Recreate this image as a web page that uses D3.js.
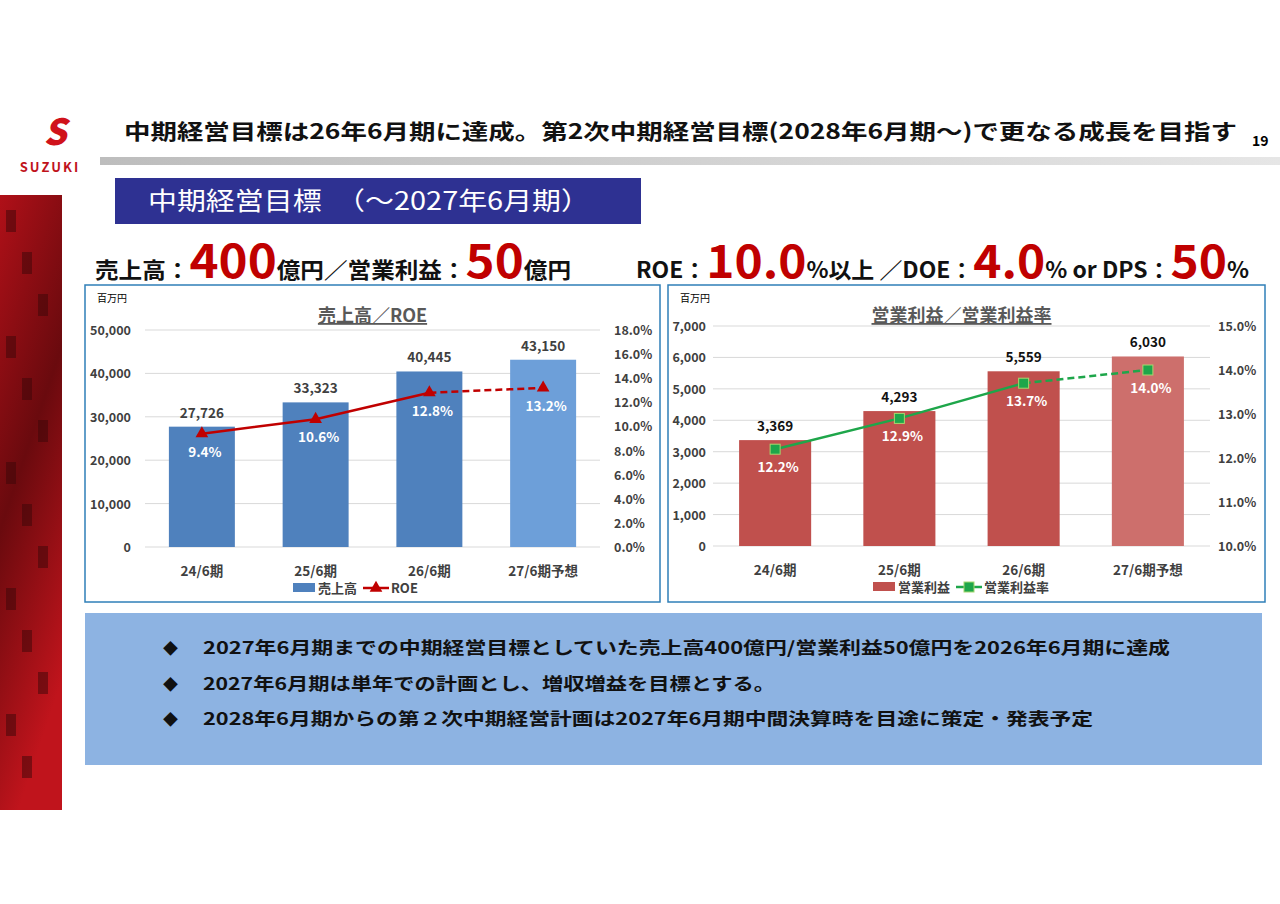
<!DOCTYPE html>
<html><head><meta charset="utf-8">
<script src="https://cdn.jsdelivr.net/npm/d3@7"></script>
<style>
body{margin:0;background:#fff;font-family:"Noto Sans CJK JP","Noto Sans",sans-serif;}
svg text{font-family:"Noto Sans CJK JP","Noto Sans",sans-serif;}
</style></head>
<body><svg width="1280" height="904"></svg>
<script>
const periods = ["24/6期", "25/6期", "26/6期", "27/6期予想"];
const sales = [27726, 33323, 40445, 43150];
const roe = [9.4, 10.6, 12.8, 13.2];
const opProfit = [3369, 4293, 5559, 6030];
const opMargin = [12.2, 12.9, 13.7, 14.0];
const salesTicks = [0, 10000, 20000, 30000, 40000, 50000];
const roeTicks = [0, 2, 4, 6, 8, 10, 12, 14, 16, 18];
const opTicks = [0, 1000, 2000, 3000, 4000, 5000, 6000, 7000];
const marginTicks = [10, 11, 12, 13, 14, 15];
const bullets = [
	"2027年6月期までの中期経営目標としていた売上高400億円/営業利益50億円を2026年6月期に達成",
	"2027年6月期は単年での計画とし、増収増益を目標とする。",
	"2028年6月期からの第２次中期経営計画は2027年6月期中間決算時を目途に策定・発表予定"
];
const bulletWidths = [967, 572, 890];

const svg = d3.select("svg");
const defs = svg.append("defs");
const g1 = defs.append("linearGradient").attr("id", "rule");
g1.append("stop").attr("offset", "0").attr("stop-color", "#bdbdbd");
g1.append("stop").attr("offset", "1").attr("stop-color", "#e6e6e6");
const g2 = defs.append("linearGradient").attr("id", "stripe").attr("x1", 0).attr("y1", 0).attr("x2", 0.3).attr("y2", 1);
g2.append("stop").attr("offset", "0").attr("stop-color", "#b01018");
g2.append("stop").attr("offset", "0.5").attr("stop-color", "#6a0a0e");
g2.append("stop").attr("offset", "1").attr("stop-color", "#c0141c");

// left decorative stripe
svg.append("rect").attr("x", 0).attr("y", 195).attr("width", 62).attr("height", 615).attr("fill", "url(#stripe)");
for (let i = 0; i < 14; i++) {
	svg.append("rect").attr("x", 6 + (i % 3) * 16).attr("y", 210 + i * 42).attr("width", 10).attr("height", 22)
		.attr("fill", "#3a0507").attr("opacity", 0.5);
}

// logo
svg.append("text").attr("x", 55).attr("y", 145).attr("text-anchor", "middle").attr("font-size", 36)
	.attr("font-weight", 900).attr("fill", "#d0121b").attr("font-style", "italic").text("S");
svg.append("text").attr("x", 50).attr("y", 172).attr("text-anchor", "middle").attr("font-size", 13)
	.attr("font-weight", 700).attr("fill", "#c0121b").attr("letter-spacing", 2).text("SUZUKI");

svg.append("text").attr("x", 124).attr("y", 139).attr("font-size", 21).attr("font-weight", 700).attr("fill", "#111")
	.attr("textLength", 1113).attr("lengthAdjust", "spacingAndGlyphs")
	.text("中期経営目標は26年6月期に達成。第2次中期経営目標(2028年6月期～)で更なる成長を目指す");
svg.append("text").attr("x", 1252).attr("y", 146).attr("font-size", 14).attr("font-weight", 700).text("19");
svg.append("rect").attr("x", 100).attr("y", 157).attr("width", 1180).attr("height", 8).attr("fill", "url(#rule)");

svg.append("rect").attr("x", 115).attr("y", 178).attr("width", 526).attr("height", 46).attr("fill", "#2e3192");
svg.append("text").attr("x", 148).attr("y", 210).attr("font-size", 25).attr("fill", "#fff")
	.attr("textLength", 442).attr("lengthAdjust", "spacingAndGlyphs").text("中期経営目標　（～2027年6月期）");

function headline(x, len, parts) {
	const t = svg.append("text").attr("x", x).attr("y", 278).attr("font-weight", 700)
		.attr("textLength", len).attr("lengthAdjust", "spacingAndGlyphs");
	parts.forEach(([s, big]) => {
		t.append("tspan").attr("font-size", big ? 46 : 22).attr("fill", big ? "#c00000" : "#111").text(s);
	});
}
headline(95, 476, [["売上高：", 0], ["400", 1], ["億円／営業利益：", 0], ["50", 1], ["億円", 0]]);
headline(636, 613, [["ROE：", 0], ["10.0", 1], ["%以上 ／DOE：", 0], ["4.0", 1], ["% or DPS：", 0], ["50", 1], ["%", 0]]);

function chart(o) {
	const g = svg.append("g");
	g.append("rect").attr("x", o.box[0]).attr("y", 285).attr("width", o.box[1] - o.box[0]).attr("height", 317)
		.attr("fill", "#fff").attr("stroke", "#2f7fb8").attr("stroke-width", 1.5);
	const x = d3.scaleBand().domain(periods).range(o.xr).paddingInner(0.42).paddingOuter(0.21);
	const y = d3.scaleLinear().domain(o.yd).range([o.y0, o.y1]);
	const y2 = d3.scaleLinear().domain(o.y2d).range([o.y0, o.y1]);
	g.selectAll("line.grid").data(o.yt).enter().append("line").attr("x1", o.xr[0]).attr("x2", o.xr[1])
		.attr("y1", d => y(d)).attr("y2", d => y(d)).attr("stroke", "#d9d9d9");
	g.selectAll("text.yl").data(o.yt).enter().append("text").attr("x", o.yLabX).attr("y", d => y(d) + 5)
		.attr("text-anchor", "end").attr("font-size", 12.5).attr("font-weight", 700).attr("fill", "#404040")
		.text(d => d3.format(",")(d));
	g.selectAll("text.y2").data(o.y2t).enter().append("text").attr("x", o.y2LabX).attr("y", d => y2(d) + 5)
		.attr("font-size", 12.5).attr("font-weight", 700).attr("fill", "#404040").text(d => d.toFixed(1) + "%");
	g.append("text").attr("x", o.box[0] + 12).attr("y", 302).attr("font-size", 10).text("百万円");
	g.append("text").attr("x", (o.xr[0] + o.xr[1]) / 2).attr("y", 322).attr("text-anchor", "middle").attr("font-size", 18)
		.attr("font-weight", 700).attr("fill", "#595959").attr("text-decoration", "underline").text(o.title);
	g.selectAll("rect.bar").data(o.bars).enter().append("rect")
		.attr("x", (d, i) => x(periods[i])).attr("width", x.bandwidth())
		.attr("y", d => y(d)).attr("height", d => o.y0 - y(d)).attr("fill", (d, i) => i === 3 ? o.c2 : o.c1);
	g.selectAll("text.bv").data(o.bars).enter().append("text")
		.attr("x", (d, i) => x(periods[i]) + x.bandwidth() / 2).attr("y", d => y(d) - 9)
		.attr("text-anchor", "middle").attr("font-size", 13.5).attr("font-weight", 700).attr("fill", o.bvc)
		.text(d => d3.format(",")(d));
	g.selectAll("text.xl").data(periods).enter().append("text").attr("x", d => x(d) + x.bandwidth() / 2)
		.attr("y", o.y0 + 29).attr("text-anchor", "middle").attr("font-size", 13.5).attr("font-weight", 700)
		.attr("fill", "#404040").text(d => d);
	const pts = o.line.map((v, i) => [x(periods[i]) + x.bandwidth() / 2, y2(v)]);
	const ln = d3.line();
	g.append("path").attr("d", ln(pts.slice(0, 3))).attr("fill", "none").attr("stroke", o.lc).attr("stroke-width", 2.5);
	g.append("path").attr("d", ln(pts.slice(2))).attr("fill", "none").attr("stroke", o.lc).attr("stroke-width", 2.5)
		.attr("stroke-dasharray", "7,4");
	pts.forEach(p => o.marker(g, p[0], p[1]));
	g.selectAll("text.lv").data(o.line).enter().append("text").attr("x", (d, i) => pts[i][0] + 3)
		.attr("y", (d, i) => pts[i][1] + 23).attr("text-anchor", "middle").attr("font-size", 13.5).attr("font-weight", 700)
		.attr("fill", "#fff").text(d => d.toFixed(1) + "%");
	// legend
	const lx = o.legX, ly = o.y0 + 41;
	g.append("rect").attr("x", lx).attr("y", ly - 5).attr("width", 22).attr("height", 9).attr("fill", o.c1);
	g.append("text").attr("x", lx + 25).attr("y", ly + 5).attr("font-size", 13).attr("font-weight", 700).attr("fill", "#404040").text(o.leg[0]);
	const l2 = lx + 25 + o.leg[0].length * 13 + 6;
	g.append("line").attr("x1", l2).attr("x2", l2 + 26).attr("y1", ly).attr("y2", ly).attr("stroke", o.lc).attr("stroke-width", 2.5);
	o.marker(g, l2 + 13, ly);
	g.append("text").attr("x", l2 + 28).attr("y", ly + 5).attr("font-size", 13).attr("font-weight", 700).attr("fill", "#404040").text(o.leg[1]);
}

chart({
	box: [85, 660], xr: [145, 600], y0: 547, y1: 330, yd: [0, 50000], y2d: [0, 18], yt: salesTicks, y2t: roeTicks,
	yLabX: 131, y2LabX: 614, title: "売上高／ROE", bars: sales, line: roe, c1: "#4f81bd", c2: "#6d9fd9",
	bvc: "#404040", lc: "#c00000", leg: ["売上高", "ROE"], legX: 293,
	marker: (g, cx, cy) => g.append("path").attr("d", d3.symbol(d3.symbolTriangle, 70)()).attr("transform", `translate(${cx},${cy})`).attr("fill", "#c00000")
});
chart({
	box: [668, 1265], xr: [713, 1210], y0: 546, y1: 326, yd: [0, 7000], y2d: [10, 15], yt: opTicks, y2t: marginTicks,
	yLabX: 706, y2LabX: 1218, title: "営業利益／営業利益率", bars: opProfit, line: opMargin, c1: "#c0504d", c2: "#cd6f6c",
	bvc: "#111", lc: "#1ea64a", leg: ["営業利益", "営業利益率"], legX: 873,
	marker: (g, cx, cy) => g.append("rect").attr("x", cx - 5).attr("y", cy - 5).attr("width", 10).attr("height", 10).attr("fill", "#1ea64a").attr("stroke", "#a6d86e").attr("stroke-width", 1)
});

svg.append("rect").attr("x", 85).attr("y", 613).attr("width", 1177).attr("height", 152).attr("fill", "#8db3e2");
bullets.forEach((b, i) => {
	svg.append("text").attr("x", 163).attr("y", 654 + i * 35.5).attr("font-size", 15).attr("fill", "#111").text("◆");
	svg.append("text").attr("x", 203).attr("y", 654 + i * 35.5).attr("font-size", 17).attr("font-weight", 700).attr("fill", "#111")
		.attr("textLength", bulletWidths[i]).attr("lengthAdjust", "spacingAndGlyphs").text(b);
});
</script></body></html>
